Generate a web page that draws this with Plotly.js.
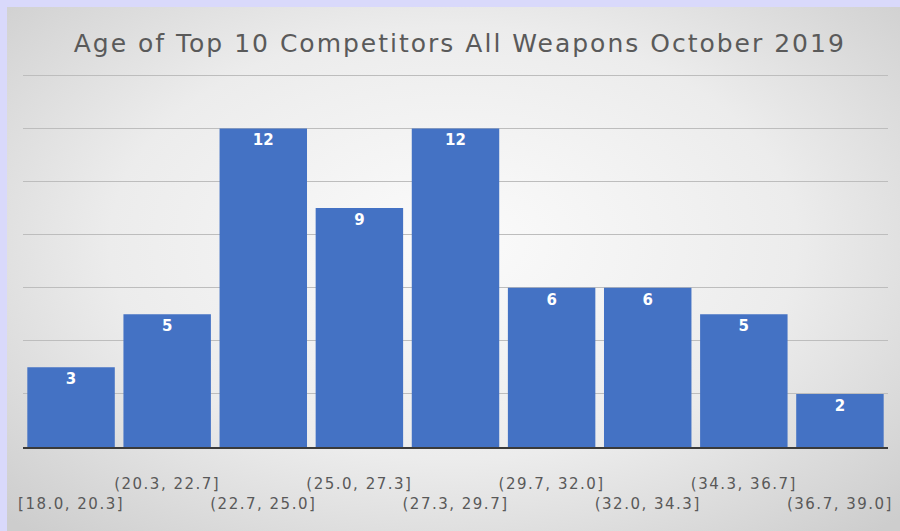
<!DOCTYPE html>
<html>
<head>
<meta charset="utf-8">
<script src="https://cdn.plot.ly/plotly-3.0.1.min.js"></script>
<style>
  html, body { margin: 0; padding: 0; width: 900px; height: 531px; overflow: hidden; background: #d9d9fb; }
  #wrap { position: absolute; left: 7px; top: 7px; width: 893px; height: 524px;
          background: radial-gradient(ellipse 70% 75% at 50% 45%, #fbfbfb 0%, #ececec 55%, #cdcdcd 100%); }
  #chart { width: 893px; height: 524px; }
  #chart .gtitle { letter-spacing: 2px; }
  #chart .xtick text { letter-spacing: 1.5px; }
</style>
</head>
<body>
<div id="wrap"><div id="chart"></div></div>
<script>
const chartTitle = "Age of Top 10 Competitors All Weapons October 2019";
const categories = ["[18.0, 20.3]", "(20.3, 22.7]", "(22.7, 25.0]", "(25.0, 27.3]", "(27.3, 29.7]",
                    "(29.7, 32.0]", "(32.0, 34.3]", "(34.3, 36.7]", "(36.7, 39.0]"];
const counts = [3, 5, 12, 9, 12, 6, 6, 5, 2];

// staggered tick labels: first, third, ... on the lower row
const tickText = categories.map((c, i) => i % 2 === 0 ? " <br>" + c : c);

const fontFam = "'DejaVu Sans', sans-serif";

const trace = {
  type: "bar",
  x: categories,
  y: counts,
  marker: { color: "#4472c4" },
  texttemplate: "%{y}",
  textposition: "inside",
  insidetextanchor: "end",
  textangle: 0,
  textfont: { color: "#ffffff", size: 15, family: fontFam, weight: "bold" },
  hoverinfo: "x+y"
};

const layout = {
  width: 893, height: 524,
  paper_bgcolor: "rgba(0,0,0,0)",
  plot_bgcolor: "rgba(0,0,0,0)",
  margin: { l: 16, r: 12, t: 67, b: 84 },
  bargap: 0.09,
  showlegend: false,
  title: {
    text: chartTitle,
    font: { family: fontFam, size: 25, color: "#5a5a5a" },
    x: 0.507, xanchor: "center",
    y: 1 - 36 / 524, yanchor: "middle", yref: "container"
  },
  xaxis: {
    type: "category",
    tickmode: "array",
    tickvals: categories,
    ticktext: tickText,
    tickfont: { family: fontFam, size: 15, color: "#595959" },
    ticks: "",
    ticklabelstandoff: 22,
    showline: true, linecolor: "#3a3a3a", linewidth: 2,
    showgrid: false, zeroline: false, fixedrange: true
  },
  yaxis: {
    range: [0, 14.05],
    dtick: 2,
    showticklabels: false,
    showgrid: true, gridcolor: "#bdbdbd", gridwidth: 1,
    zeroline: false, showline: false, fixedrange: true
  }
};

Plotly.newPlot("chart", [trace], layout, { displayModeBar: false, staticPlot: true });
</script>
</body>
</html>
